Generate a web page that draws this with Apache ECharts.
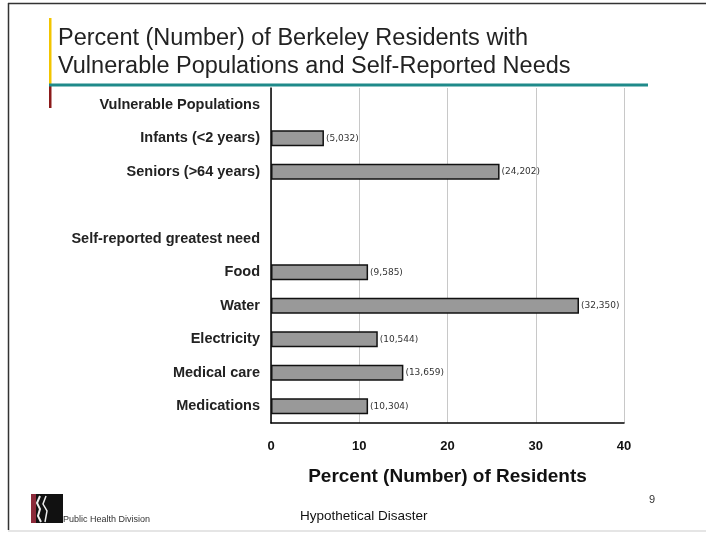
<!DOCTYPE html>
<html><head><meta charset="utf-8">
<script src="https://cdn.jsdelivr.net/npm/echarts@6/dist/echarts.min.js"></script>
<style>html,body{margin:0;padding:0;background:#fff}#c{width:706px;height:533px}</style>
</head><body><div id="c"></div>
<script>
const categories = ['Vulnerable Populations','Infants (<2 years)','Seniors (>64 years)','','Self-reported greatest need','Food','Water','Electricity','Medical care','Medications'];
const percentValues = [null, 6.0, 25.9, null, null, 11.0, 34.9, 12.1, 15.0, 11.0];
const residentCounts = ['', '5,032', '24,202', '', '', '9,585', '32,350', '10,544', '13,659', '10,304'];
const xTicks = [0, 10, 20, 30, 40];

const chart = echarts.init(document.getElementById('c'), null, {renderer:'canvas'});
const F = 'Liberation Sans, Arial, sans-serif';
const D = 'DejaVu Sans, Verdana, sans-serif';
chart.setOption({
  animation:false,
  backgroundColor:'#fff',
  grid:{left:271, right:82, top:88, bottom:110, containLabel:false},
  xAxis:{type:'value', min:xTicks[0], max:xTicks[xTicks.length-1], interval:10,
    axisLine:{show:true, lineStyle:{color:'#000', width:1.5}},
    axisTick:{show:false},
    splitLine:{show:true, lineStyle:{color:'#c8c8c8', width:1}},
    axisLabel:{fontFamily:F, fontWeight:'bold', fontSize:13, color:'#111', margin:17},
    name:'Percent (Number) of Residents', nameLocation:'middle', nameGap:44,
    nameTextStyle:{fontFamily:F, fontWeight:'bold', fontSize:19, color:'#111'}},
  yAxis:{type:'category', data:categories, inverse:true,
    axisLine:{show:true, lineStyle:{color:'#000', width:1.5}},
    axisTick:{show:false}, splitLine:{show:false},
    axisLabel:{fontFamily:F, fontWeight:'bold', fontSize:14.5, color:'#222', margin:11}},
  series:[{type:'bar', data:percentValues, barWidth:16,
    itemStyle:{color:'#999999', borderColor:'#111', borderWidth:1.5},
    label:{show:true, position:'right', distance:2, fontFamily:D, fontSize:9, color:'#333',
      formatter:p=>residentCounts[p.dataIndex] ? '(' + residentCounts[p.dataIndex] + ')' : ''}}],
  graphic:[
    {type:'line', shape:{x1:8.5,y1:3,x2:8.5,y2:530}, style:{stroke:'#333', lineWidth:1.5}},
    {type:'line', shape:{x1:8,y1:3.5,x2:706,y2:3.5}, style:{stroke:'#333', lineWidth:1.5}},
    {type:'line', shape:{x1:8,y1:531,x2:706,y2:531}, style:{stroke:'#ddd', lineWidth:1.5}},
    {type:'rect', shape:{x:49,y:18,width:2.5,height:67}, style:{fill:'#f2c500'}},
    {type:'rect', shape:{x:49,y:85,width:2.5,height:23}, style:{fill:'#8b1a1a'}},
    {type:'rect', shape:{x:49,y:83.5,width:599,height:3}, style:{fill:'#1f8a8a'}},
    {type:'text', left:58, top:27, style:{text:'Percent (Number) of Berkeley Residents with', font:'23.5px '+F, fill:'#222'}},
    {type:'text', left:58, top:55, style:{text:'Vulnerable Populations and Self-Reported Needs', font:'23.5px '+F, fill:'#222'}},
    {type:'text', left:300, top:509, style:{text:'Hypothetical Disaster', font:'13.5px '+F, fill:'#111'}},
    {type:'text', left:649, top:494, style:{text:'9', font:'11px '+F, fill:'#333'}},
    {type:'rect', shape:{x:31,y:494,width:32,height:29}, style:{fill:'#111'}},
    {type:'rect', shape:{x:31,y:494,width:5,height:29}, style:{fill:'#8b2a3a'}},
    {type:'polyline', shape:{points:[[40,496],[37,503],[40,509],[38,516],[41,522]]}, style:{stroke:'#eee', lineWidth:2, fill:null}},
    {type:'polyline', shape:{points:[[46,496],[43,504],[47,511],[45,522]]}, style:{stroke:'#eee', lineWidth:1.5, fill:null}},
    {type:'text', left:63, top:515, style:{text:'Public Health Division', font:'9px '+F, fill:'#333'}}
  ]
});
</script></body></html>
